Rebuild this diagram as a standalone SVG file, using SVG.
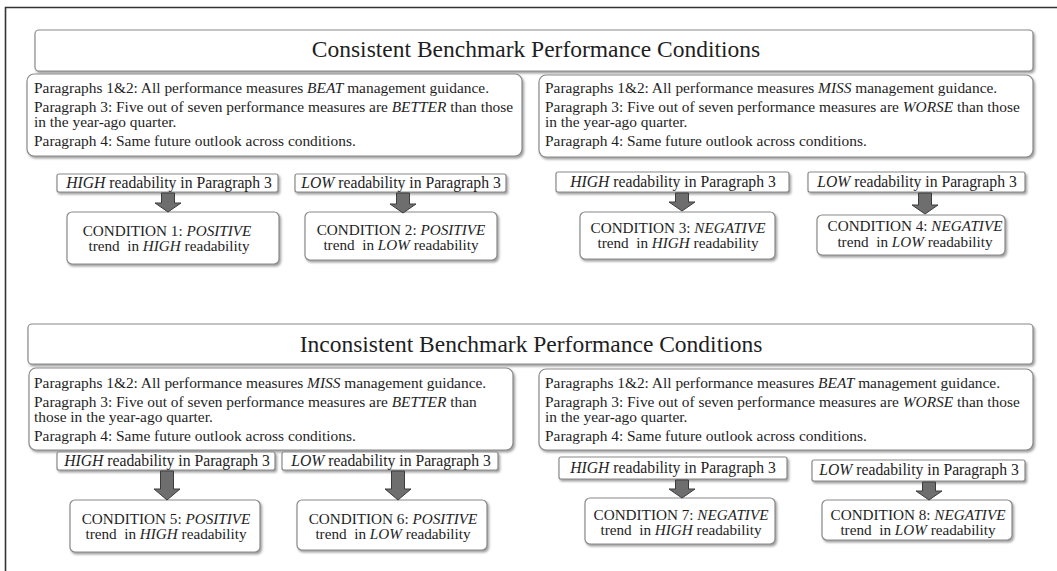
<svg xmlns="http://www.w3.org/2000/svg" width="1057" height="571" viewBox="0 0 1057 571">
<defs>
<filter id="sh" x="-5%" y="-20%" width="110%" height="150%">
<feDropShadow dx="1.5" dy="2" stdDeviation="1.2" flood-color="#888" flood-opacity="0.8"/>
</filter>
<style>
.box{fill:#fff;stroke:#8a8a8a;stroke-width:1.2;filter:url(#sh)}
text{font-family:'Liberation Serif','Times New Roman',Tinos,'DejaVu Serif',serif;fill:#1e1e1e}
.title{font-size:23.5px}
.p{font-size:15.4px}
.s{font-size:15.7px}
.c{font-size:15.2px;white-space:pre}
.i{font-style:italic}
.arr{fill:#6e6e6e;stroke:#3c3c3c;stroke-width:1}
</style>
</defs>
<rect width="1057" height="571" fill="#fff"/>
<path d="M5.5,571 V7.5 H1057" fill="none" stroke="#333" stroke-width="1.6"/>

<g id="title1">
<rect class="box" x="35" y="30" width="998" height="41" rx="4"/>
<text class="title" x="536" y="57" text-anchor="middle">Consistent Benchmark Performance Conditions</text>
</g>
<g id="para1">
<rect class="box" x="27" y="74" width="495" height="82" rx="7"/>
<text class="p" x="34" y="93">Paragraphs 1&amp;2: All performance measures <tspan class="i">BEAT</tspan> management guidance.</text>
<text class="p" x="34" y="112">Paragraph 3: Five out of seven performance measures are <tspan class="i">BETTER</tspan> than those</text>
<text class="p" x="34" y="127">in the year-ago quarter.</text>
<text class="p" x="34" y="146">Paragraph 4: Same future outlook across conditions.</text>
</g>
<g id="para2">
<rect class="box" x="539" y="75" width="494" height="82" rx="7"/>
<text class="p" x="545" y="93">Paragraphs 1&amp;2: All performance measures <tspan class="i">MISS</tspan> management guidance.</text>
<text class="p" x="545" y="112">Paragraph 3: Five out of seven performance measures are <tspan class="i">WORSE</tspan> than those</text>
<text class="p" x="545" y="127">in the year-ago quarter.</text>
<text class="p" x="545" y="146">Paragraph 4: Same future outlook across conditions.</text>
</g>
<g id="high1">
<rect class="box" x="57" y="174" width="221" height="18" rx="2"/>
<text class="s" x="169" y="188" text-anchor="middle"><tspan class="i">HIGH</tspan> readability in Paragraph 3</text>
</g>
<g id="low1">
<rect class="box" x="295" y="174" width="211" height="18" rx="2"/>
<text class="s" x="401" y="188" text-anchor="middle"><tspan class="i">LOW</tspan> readability in Paragraph 3</text>
</g>
<g id="high2">
<rect class="box" x="556" y="172" width="233" height="20" rx="2"/>
<text class="s" x="673" y="187" text-anchor="middle"><tspan class="i">HIGH</tspan> readability in Paragraph 3</text>
</g>
<g id="low2">
<rect class="box" x="808" y="172" width="217" height="20" rx="2"/>
<text class="s" x="917" y="187" text-anchor="middle"><tspan class="i">LOW</tspan> readability in Paragraph 3</text>
</g>
<g id="cond1">
<rect class="box" x="67" y="212" width="212" height="52" rx="5"/>
<text class="c" x="167" y="236" text-anchor="middle">CONDITION 1: <tspan class="i">POSITIVE</tspan></text>
<text class="c" x="169" y="251" text-anchor="middle">trend  in <tspan class="i">HIGH</tspan> readability</text>
</g>
<g id="cond2">
<rect class="box" x="305" y="212" width="192" height="48" rx="5"/>
<text class="c" x="401" y="235" text-anchor="middle">CONDITION 2: <tspan class="i">POSITIVE</tspan></text>
<text class="c" x="401" y="250" text-anchor="middle">trend  in <tspan class="i">LOW</tspan> readability</text>
</g>
<g id="cond3">
<rect class="box" x="580" y="212" width="195" height="47" rx="5"/>
<text class="c" x="678" y="233" text-anchor="middle">CONDITION 3: <tspan class="i">NEGATIVE</tspan></text>
<text class="c" x="678" y="248" text-anchor="middle">trend  in <tspan class="i">HIGH</tspan> readability</text>
</g>
<g id="cond4">
<rect class="box" x="817" y="215" width="188" height="40" rx="5"/>
<text class="c" x="915" y="231" text-anchor="middle">CONDITION 4: <tspan class="i">NEGATIVE</tspan></text>
<text class="c" x="915" y="247" text-anchor="middle">trend  in <tspan class="i">LOW</tspan> readability</text>
</g>

<g id="title2">
<rect class="box" x="28" y="324" width="1005" height="40" rx="4"/>
<text class="title" x="531" y="352" text-anchor="middle">Inconsistent Benchmark Performance Conditions</text>
</g>
<g id="para3">
<rect class="box" x="29" y="368" width="484" height="82" rx="7"/>
<text class="p" x="34" y="388">Paragraphs 1&amp;2: All performance measures <tspan class="i">MISS</tspan> management guidance.</text>
<text class="p" x="34" y="407">Paragraph 3: Five out of seven performance measures are <tspan class="i">BETTER</tspan> than</text>
<text class="p" x="34" y="422">those in the year-ago quarter.</text>
<text class="p" x="34" y="441">Paragraph 4: Same future outlook across conditions.</text>
</g>
<g id="para4">
<rect class="box" x="539" y="369" width="494" height="81" rx="7"/>
<text class="p" x="545" y="388">Paragraphs 1&amp;2: All performance measures <tspan class="i">BEAT</tspan> management guidance.</text>
<text class="p" x="545" y="407">Paragraph 3: Five out of seven performance measures are <tspan class="i">WORSE</tspan> than those</text>
<text class="p" x="545" y="422">in the year-ago quarter.</text>
<text class="p" x="545" y="441">Paragraph 4: Same future outlook across conditions.</text>
</g>
<g id="high3">
<rect class="box" x="57" y="452" width="218" height="18" rx="2"/>
<text class="s" x="167" y="466" text-anchor="middle"><tspan class="i">HIGH</tspan> readability in Paragraph 3</text>
</g>
<g id="low3">
<rect class="box" x="282" y="452" width="216" height="18" rx="2"/>
<text class="s" x="391" y="466" text-anchor="middle"><tspan class="i">LOW</tspan> readability in Paragraph 3</text>
</g>
<g id="high4">
<rect class="box" x="559" y="457" width="228" height="22" rx="2"/>
<text class="s" x="673" y="473" text-anchor="middle"><tspan class="i">HIGH</tspan> readability in Paragraph 3</text>
</g>
<g id="low4">
<rect class="box" x="812" y="460" width="213" height="21" rx="2"/>
<text class="s" x="919" y="475" text-anchor="middle"><tspan class="i">LOW</tspan> readability in Paragraph 3</text>
</g>
<g id="cond5">
<rect class="box" x="70" y="500" width="190" height="52" rx="5"/>
<text class="c" x="166" y="524" text-anchor="middle">CONDITION 5: <tspan class="i">POSITIVE</tspan></text>
<text class="c" x="166" y="539" text-anchor="middle">trend  in <tspan class="i">HIGH</tspan> readability</text>
</g>
<g id="cond6">
<rect class="box" x="297" y="500" width="190" height="50" rx="5"/>
<text class="c" x="393" y="524" text-anchor="middle">CONDITION 6: <tspan class="i">POSITIVE</tspan></text>
<text class="c" x="393" y="539" text-anchor="middle">trend  in <tspan class="i">LOW</tspan> readability</text>
</g>
<g id="cond7">
<rect class="box" x="585" y="498" width="190" height="46" rx="5"/>
<text class="c" x="681" y="520" text-anchor="middle">CONDITION 7: <tspan class="i">NEGATIVE</tspan></text>
<text class="c" x="681" y="535" text-anchor="middle">trend  in <tspan class="i">HIGH</tspan> readability</text>
</g>
<g id="cond8">
<rect class="box" x="822" y="500" width="190" height="40" rx="5"/>
<text class="c" x="918" y="520" text-anchor="middle">CONDITION 8: <tspan class="i">NEGATIVE</tspan></text>
<text class="c" x="918" y="535" text-anchor="middle">trend  in <tspan class="i">LOW</tspan> readability</text>
</g>

<g id="connectors">
<polygon class="arr" points="161.5,193 174.5,193 174.5,203 181,203 168,212 155,203 161.5,203"/>
<polygon class="arr" points="396.5,193 409.5,193 409.5,204 416,204 403,213 390,204 396.5,204"/>
<polygon class="arr" points="675.5,193 688.5,193 688.5,202 695,202 682,211 669,202 675.5,202"/>
<polygon class="arr" points="918.5,193 931.5,193 931.5,205 938,205 925,214 912,205 918.5,205"/>
<polygon class="arr" points="160.5,471 173.5,471 173.5,489 180,489 167,500 154,489 160.5,489"/>
<polygon class="arr" points="391.5,471 404.5,471 404.5,489 411,489 398,500 385,489 391.5,489"/>
<polygon class="arr" points="675.5,480 688.5,480 688.5,489 695,489 682,498 669,489 675.5,489"/>
<polygon class="arr" points="922.5,482 935.5,482 935.5,491 942,491 929,500 916,491 922.5,491"/>
</g>
</svg>
